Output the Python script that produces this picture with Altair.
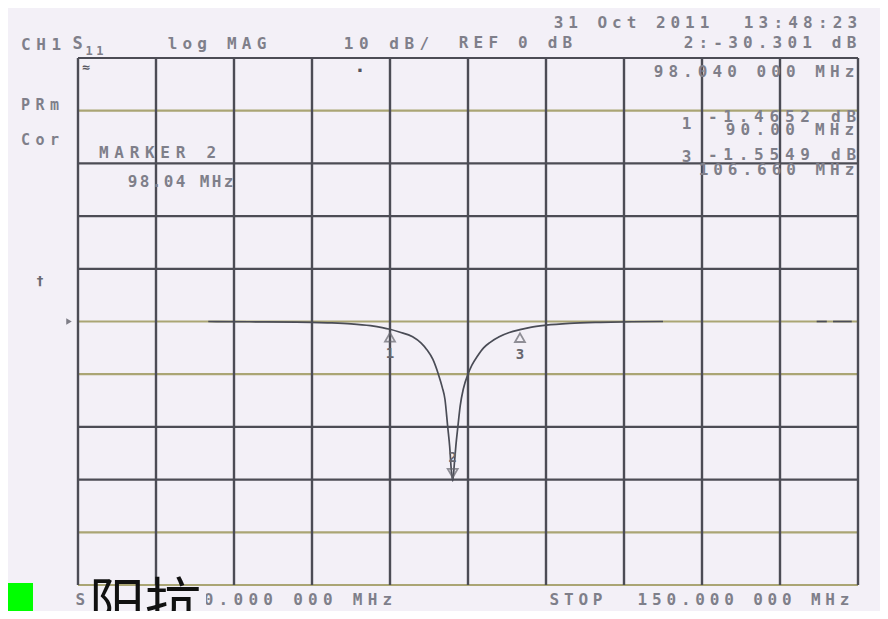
import altair as alt
import pandas as pd

# ---------------- data ----------------
# S11 trace (MHz, dB)
freq = [66.7, 72, 78, 82, 85, 87.5, 89, 90.0, 91.2, 92.9, 94.0, 94.7, 95.5, 96.2,
        96.7, 97.05, 97.4, 97.65, 97.85, 98.04, 98.25, 98.45, 98.7, 99.0, 99.4,
        100.0, 100.5, 101.2, 102.0, 102.8, 104.0, 105.3, 106.66, 108.0, 110.0,
        113.0, 117.0, 121.0, 125.0]
s11 = [0.0, -0.05, -0.1, -0.25, -0.45, -0.8, -1.15, -1.47, -2.0, -2.9, -4.1, -5.3,
       -7.2, -10.0, -12.5, -14.8, -20.0, -23.7, -28.0, -30.3, -27.0, -23.5, -20.0,
       -16.0, -12.8, -10.0, -8.3, -6.6, -5.0, -4.0, -2.9, -2.1, -1.55, -1.1, -0.7,
       -0.35, -0.15, -0.05, 0.0]
# short trace pieces at the right edge
dash_f = [144.7, 146.0, 146.8, 149.2]
dash_db = [0.0, 0.0, 0.0, 0.0]
dash_seg = [1, 1, 2, 2]

# markers
mk_id = ["1", "2", "3"]
mk_f = [90.0, 98.04, 106.66]
mk_db = [-1.4652, -30.301, -1.5549]

# grid (10 MHz/div, 10 dB/div, REF 0 dB)
x_grid = [50, 60, 70, 80, 90, 100, 110, 120, 130, 140, 150]
y_grid = [50, 40, 30, 20, 10, 0, -10, -20, -30, -40, -50]
y_grid_kind = ["d", "y", "d", "d", "d", "y", "y", "d", "d", "y", "y"]

# ---------------- styling ----------------
BG = "#f3f0f7"
DARK = "#4c4c55"
YEL = "#aaa574"
TXT = "#7f7f8a"
OX, OY = 78, 58          # page position of plot origin
W, H = 780, 527
TOTAL_H = 603

xs = alt.Scale(domain=[50, 150], nice=False, zero=False)
ys = alt.Scale(domain=[-50, 50], nice=False, zero=False)

df_tr = pd.DataFrame({"f": freq, "db": s11})
df_dash = pd.DataFrame({"f": dash_f, "db": dash_db, "seg": dash_seg})
df_mk = pd.DataFrame({"id": mk_id, "f": mk_f, "db": mk_db})
df_vg = pd.DataFrame({"f": x_grid})
df_hg = pd.DataFrame({"db": y_grid,
                      "c": [YEL if k == "y" else DARK for k in y_grid_kind]})

hgrid = alt.Chart(df_hg).mark_rule(strokeWidth=2.2).encode(
    y=alt.Y("db:Q", scale=ys, axis=None),
    color=alt.Color("c:N", scale=None))
vgrid = alt.Chart(df_vg).mark_rule(strokeWidth=2.4, color=DARK).encode(
    x=alt.X("f:Q", scale=xs, axis=None))

trace = alt.Chart(df_tr).mark_line(color="#4a4c56", strokeWidth=1.7,
                                   interpolate="monotone").encode(
    x=alt.X("f:Q", scale=xs, axis=None),
    y=alt.Y("db:Q", scale=ys, axis=None))
dashes = alt.Chart(df_dash).mark_line(color="#4a4c56", strokeWidth=1.7).encode(
    x=alt.X("f:Q", scale=xs, axis=None),
    y=alt.Y("db:Q", scale=ys, axis=None),
    detail="seg:N")

mk_low = alt.Chart(df_mk).transform_filter("datum.id != '2'")
mk_hi = alt.Chart(df_mk).transform_filter("datum.id == '2'")
menc = dict(x=alt.X("f:Q", scale=xs, axis=None), y=alt.Y("db:Q", scale=ys, axis=None))
tri1 = mk_low.mark_point(shape="triangle-up", filled=False, size=100,
                         strokeWidth=1.8, color="#66666e", yOffset=8).encode(**menc)
lab1 = mk_low.mark_text(font="DejaVu Sans Mono", fontSize=14, fontWeight="bold",
                        color="#66666e", yOffset=25).encode(text="id:N", **menc)
tri2 = mk_hi.mark_point(shape="triangle-down", filled=False, size=100,
                        strokeWidth=1.8, color="#66666e", yOffset=-8).encode(**menc)
lab2 = mk_hi.mark_text(font="DejaVu Sans Mono", fontSize=14, fontWeight="bold",
                       color="#66666e", yOffset=-23).encode(text="id:N", **menc)

ref_ind = alt.Chart(pd.DataFrame({"db": [0]})).mark_point(
    shape="triangle-right", filled=True, size=40, color=DARK).encode(
    x=alt.value(-9), y=alt.Y("db:Q", scale=ys, axis=None))

# ---------------- screen annotations (character-spaced) ----------------
labels = [
    ("CH1", 20, 62, 45, 16),
    ("S", 72, 83, 44, 17),
    ("11", 85, 104, 51, 12),
    ("log MAG", 167, 267, 44, 16),
    ("10 dB/", 343, 430, 44, 16),
    ("REF 0 dB", 458, 573, 43, 16),
    ("31 Oct 2011", 553, 710, 23, 16),
    ("13:48:23", 743, 858, 23, 16),
    ("2:-30.301 dB", 683, 857, 43, 16),
    ("98.040 000 MHz", 653, 855, 72, 16),
    ("PRm", 20, 60, 105, 15),
    ("Cor", 20, 60, 140, 15),
    ("MARKER 2", 98, 217, 153, 16),
    ("98.04 MHz", 128, 233, 182, 16),
    ("1", 681, 692, 124, 16),
    ("-1.4652 dB", 707, 857, 117, 16),
    ("90.00 MHz", 725, 855, 130, 16),
    ("3", 681, 692, 157, 16),
    ("-1.5549 dB", 707, 857, 155, 16),
    ("106.660 MHz", 698, 855, 170, 16),
    ("START", 75, 143, 600, 16),
    ("50.000 000 MHz", 188, 393, 600, 16),
    ("STOP", 549, 603, 600, 16),
    ("150.000 000 MHz", 637, 850, 600, 16),
]
rows = []
for s, x0, x1, y, fs in labels:
    n = len(s)
    pitch = (x1 - x0) / (n - 0.25) if n > 1 else (x1 - x0)
    for i, ch in enumerate(s):
        if ch == " ":
            continue
        cx = x0 + pitch * (i + 0.375) if n > 1 else (x0 + x1) / 2
        rows.append({"ch": ch, "px": cx - OX, "py": y - OY, "fs": fs})
df_txt = pd.DataFrame(rows)
texts = alt.Chart(df_txt).mark_text(font="DejaVu Sans Mono", fontWeight="bold",
                                    color=TXT, baseline="middle", align="center").encode(
    x=alt.X("px:Q", scale=None, axis=None),
    y=alt.Y("py:Q", scale=None, axis=None),
    size=alt.Size("fs:Q", scale=None, legend=None),
    text="ch:N")

one = pd.DataFrame({"a": [0]})
small_marks = alt.Chart(one).mark_text(text="†", font="DejaVu Sans", fontSize=13,
                                       fontWeight="bold", color="#6a6a72").encode(
    x=alt.value(40 - OX), y=alt.value(281 - OY))
corner = alt.Chart(one).mark_text(text="≈", font="DejaVu Sans", fontSize=11,
                                  fontWeight="bold", color="#55555e").encode(
    x=alt.value(86 - OX), y=alt.value(68 - OY))
dot = alt.Chart(one).mark_text(text="·", font="DejaVu Sans", fontSize=18,
                               fontWeight="bold", color="#55555e").encode(
    x=alt.value(360 - OX), y=alt.value(72 - OY))

cover = alt.Chart(one).mark_rect(color=BG).encode(
    x=alt.value(88 - OX), x2=alt.value(206 - OX),
    y=alt.value(590 - OY), y2=alt.value(625 - OY))
green = alt.Chart(one).mark_rect(color="#00ff00").encode(
    x=alt.value(0 - OX), x2=alt.value(33 - OX),
    y=alt.value(583 - OY), y2=alt.value(625 - OY))
cjk = alt.Chart(one).mark_text(text="阳抗", font="Noto Sans CJK SC", fontSize=56,
                               color="#111111", align="left",
                               baseline="alphabetic").encode(
    x=alt.value(89 - OX), y=alt.value(624 - OY))

chart = alt.layer(
    hgrid, vgrid, trace, dashes, ref_ind, tri1, lab1, tri2, lab2,
    texts, small_marks, corner, dot, cover, green, cjk
).properties(
    width=W, height=H,
    padding={"left": OX - 8, "top": OY - 8, "right": 872 - (OX - 8) - W,
             "bottom": TOTAL_H - (OY - 8) - H},
    autosize=alt.AutoSizeParams(type="none"),
    background=BG,
).configure_view(stroke=None)

chart.save("out.html", embed_options={"renderer": "svg", "actions": False})
